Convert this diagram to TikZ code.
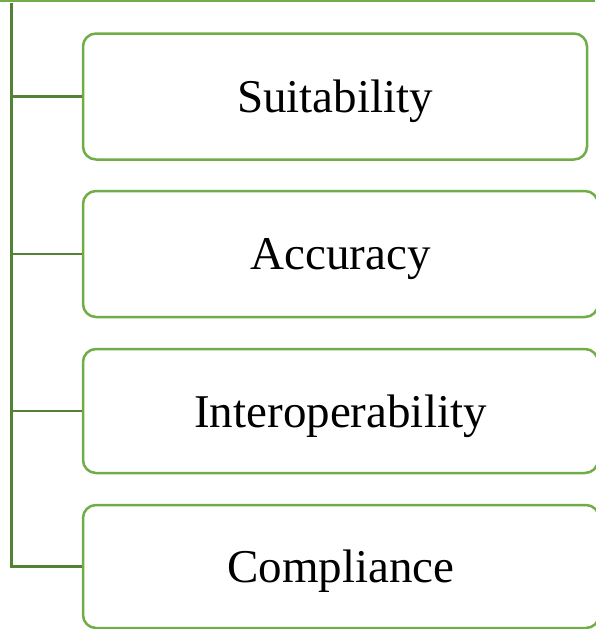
\documentclass[tikz,border=0pt]{standalone}
\usepackage{fontspec}
\setmainfont{Liberation Serif}
\definecolor{boxgreen}{HTML}{70AD47}
\definecolor{stemgreen}{HTML}{548235}
\begin{document}
\begin{tikzpicture}[x=1pt, y=-1pt,
	item/.style={shape=rectangle, rounded corners=13pt, draw=boxgreen, line width=2.5pt, fill=white,
		inner sep=0pt, text depth=0pt, minimum height=126pt, font=\fontsize{47}{56}\selectfont},
	stem/.style={draw=stemgreen, line width=2.6pt}]
			\useasboundingbox (0,0) rectangle (595,629);
			%Parent edge along the top:
			\coordinate (pl) at (0,0.6);
			\coordinate (pr) at (595,0.6);
			\draw[draw=boxgreen, line width=2pt] (pl) -- (pr);
			%Items:
			\path
				(335,96.5) node[item, minimum width=504pt] (suit) {Suitability}
				(340.5,254) node[item, minimum width=515pt] (accu) {Accuracy}
				(340.5,411) node[item, minimum width=515pt, minimum height=124pt] (inter) {Interoperability}
				(341,566.5) node[item, minimum width=516pt, minimum height=123pt] (comp) {Compliance};
			%Stem and branches:
			\coordinate (top) at (11.5,3);
			\draw[stem] (top) |- (comp.west);
			\draw[stem] (top |- suit.west) -- (suit.west);
			\draw[stem] (top |- accu.west) -- (accu.west);
			\draw[stem] (top |- inter.west) -- (inter.west);
			\end{tikzpicture}
\end{document}
